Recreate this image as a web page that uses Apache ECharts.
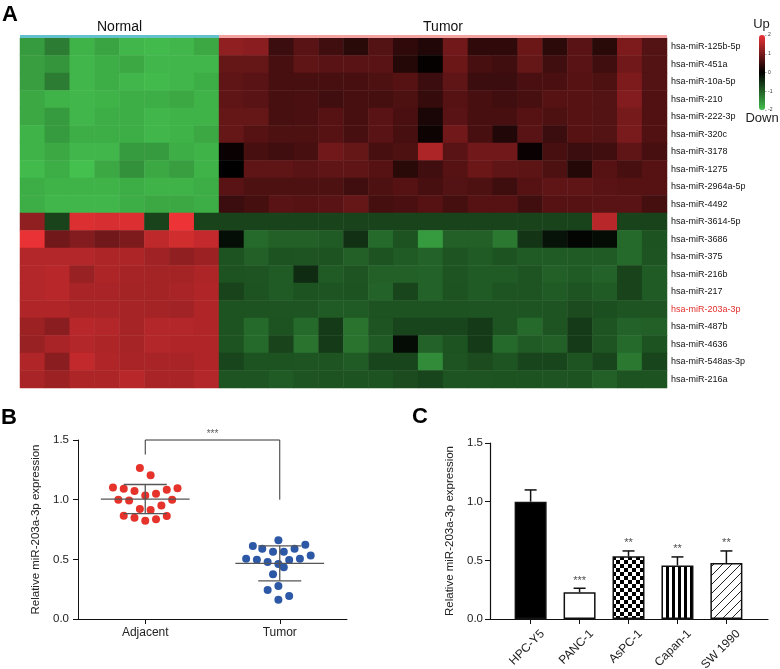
<!DOCTYPE html>
<html><head><meta charset="utf-8">
<script src="https://cdn.jsdelivr.net/npm/echarts@6/dist/echarts.min.js"></script>
<style>html,body{margin:0;padding:0;background:#fff}#c{width:780px;height:669px}</style>
</head><body><div id="c"></div>
<script>
const FONT = 'Arial, "Liberation Sans", Helvetica, sans-serif';

// ---------- Panel A data ----------
const mirnas = ['hsa-miR-125b-5p','hsa-miR-451a','hsa-miR-10a-5p','hsa-miR-210','hsa-miR-222-3p','hsa-miR-320c','hsa-miR-3178','hsa-miR-1275','hsa-miR-2964a-5p','hsa-miR-4492','hsa-miR-3614-5p','hsa-miR-3686','hsa-miR-375','hsa-miR-216b','hsa-miR-217','hsa-miR-203a-3p','hsa-miR-487b','hsa-miR-4636','hsa-miR-548as-3p','hsa-miR-216a'];
const highlightMirna = 'hsa-miR-203a-3p';
const groupNames = ['Normal','Tumor'];
const groupSizes = [8, 18];
const normalValues = [
 [-1.6,-1.3,-1.85,-1.7,-1.9,-1.95,-1.9,-1.75],
 [-1.65,-1.55,-1.9,-1.8,-1.75,-1.9,-1.9,-1.9],
 [-1.65,-1.3,-1.9,-1.8,-1.9,-1.95,-1.9,-1.8],
 [-1.75,-1.85,-1.9,-1.85,-1.8,-1.8,-1.75,-1.85],
 [-1.75,-1.6,-1.9,-1.8,-1.8,-1.9,-1.85,-1.85],
 [-1.85,-1.6,-1.8,-1.8,-1.8,-1.9,-1.85,-1.75],
 [-1.85,-1.75,-1.9,-1.9,-1.6,-1.6,-1.8,-1.85],
 [-1.95,-1.8,-2.0,-1.75,-1.5,-1.75,-1.65,-1.85],
 [-1.8,-1.85,-1.85,-1.85,-1.8,-1.85,-1.85,-1.8],
 [-1.8,-1.9,-1.9,-1.9,-1.8,-1.75,-1.75,-1.8],
 [1.2,-0.7,1.85,1.8,1.85,-0.7,2.0,-0.7],
 [1.95,0.95,1.1,0.95,1.05,1.6,1.75,1.65],
 [1.5,1.5,1.5,1.45,1.45,1.35,1.2,1.3],
 [1.5,1.55,1.28,1.45,1.4,1.38,1.38,1.45],
 [1.5,1.55,1.42,1.42,1.38,1.38,1.42,1.48],
 [1.48,1.48,1.42,1.42,1.4,1.38,1.36,1.48],
 [1.3,1.15,1.55,1.5,1.4,1.5,1.5,1.48],
 [1.28,1.42,1.5,1.45,1.4,1.5,1.48,1.48],
 [1.48,1.15,1.62,1.48,1.42,1.42,1.42,1.48],
 [1.42,1.3,1.45,1.45,1.55,1.42,1.42,1.5]
];
const tumorValues = [
 [1.2,1.15,0.5,0.75,0.55,0.35,0.7,0.4,0.28,0.95,0.4,0.4,0.9,0.38,0.75,0.35,1.05,0.7],
 [0.85,0.85,0.6,0.8,0.75,0.75,0.75,0.3,0.05,0.9,0.6,0.55,0.85,0.55,0.75,0.55,0.95,0.7],
 [0.8,0.75,0.6,0.6,0.6,0.6,0.65,0.72,0.5,0.8,0.5,0.5,0.62,0.62,0.72,0.65,1.05,0.7],
 [0.8,0.75,0.6,0.62,0.55,0.6,0.58,0.65,0.45,0.72,0.6,0.55,0.6,0.72,0.72,0.7,1.1,0.68],
 [0.85,0.85,0.6,0.62,0.72,0.6,0.75,0.62,0.22,0.75,0.6,0.6,0.72,0.65,0.72,0.7,1.0,0.68],
 [0.85,0.72,0.65,0.65,0.72,0.6,0.75,0.6,0.12,0.95,0.6,0.28,0.75,0.5,0.72,0.7,1.02,0.68],
 [0.08,0.6,0.55,0.6,0.95,0.85,0.6,0.65,1.45,0.75,0.95,0.95,0.08,0.6,0.5,0.55,0.8,0.6],
 [0.0,0.8,0.8,0.75,0.8,0.8,0.72,0.35,0.55,0.72,0.9,0.8,0.78,0.65,0.3,0.72,0.6,0.72],
 [0.75,0.65,0.65,0.65,0.65,0.55,0.65,0.72,0.6,0.7,0.65,0.52,0.72,0.8,0.8,0.75,0.72,0.72],
 [0.5,0.58,0.75,0.72,0.75,0.85,0.58,0.62,0.72,0.58,0.72,0.72,0.55,0.72,0.72,0.75,0.75,0.58],
 [-0.7,-0.7,-0.7,-0.7,-0.7,-0.7,-0.7,-0.7,-0.7,-0.7,-0.7,-0.7,-0.7,-0.7,-0.7,1.55,-0.7,-0.7],
 [-0.15,-1.1,-1.0,-1.0,-0.95,-0.5,-1.1,-0.85,-1.6,-1.0,-1.0,-1.25,-0.55,-0.2,-0.05,-0.12,-1.1,-0.85],
 [-0.85,-1.0,-0.85,-0.88,-0.85,-1.0,-0.85,-0.95,-1.02,-0.88,-0.95,-0.85,-0.95,-0.95,-0.95,-0.95,-1.1,-0.88],
 [-0.85,-0.88,-0.95,-0.45,-0.95,-0.88,-1.0,-1.0,-1.02,-0.88,-0.95,-0.95,-0.88,-1.0,-0.95,-1.02,-0.7,-0.95],
 [-0.7,-0.85,-0.95,-0.85,-0.88,-0.85,-1.02,-0.72,-1.02,-0.85,-0.95,-0.88,-0.88,-0.95,-0.88,-0.95,-0.7,-0.95],
 [-0.85,-0.85,-0.88,-0.88,-0.95,-0.95,-0.85,-0.85,-0.85,-0.85,-0.88,-0.88,-0.88,-0.88,-0.78,-0.82,-0.88,-0.88],
 [-0.85,-1.1,-0.85,-1.1,-0.6,-1.2,-0.88,-0.72,-0.72,-0.72,-0.6,-0.88,-1.1,-0.88,-0.6,-0.88,-1.02,-1.0],
 [-0.85,-1.1,-0.7,-1.2,-0.6,-1.2,-0.95,-0.12,-1.02,-0.85,-0.6,-1.1,-0.95,-1.0,-0.6,-0.88,-1.1,-0.85],
 [-0.72,-0.85,-0.85,-0.88,-0.88,-0.95,-0.72,-0.72,-1.45,-0.88,-0.78,-0.88,-0.72,-0.72,-0.88,-0.72,-1.25,-0.72],
 [-0.88,-0.88,-0.95,-0.88,-0.85,-0.85,-0.85,-0.78,-0.72,-0.88,-0.88,-0.85,-0.85,-0.88,-0.85,-1.0,-0.85,-0.85]
];
const colorScaleTicks = [-2, -1, 0, 1, 2];
const colorScaleEnds = ['Up', 'Down'];

// ---------- Panel B data ----------
const dotGroups = ['Adjacent', 'Tumor'];
const adjacentJitter = [-0.04,0.04,-0.24,-0.16,-0.08,0.08,0.16,0.24,0,-0.2,-0.12,0.2,0.12,-0.04,0.04,-0.16,-0.08,0,0.08,0.16];
const adjacentValues = [1.266,1.204,1.101,1.092,1.073,1.050,1.084,1.095,1.034,1.0,0.994,1.0,0.952,0.922,0.913,0.866,0.849,0.824,0.835,0.863];
const tumorJitter = [-0.01,-0.2,-0.13,-0.05,0.03,0.11,0.19,-0.25,-0.17,-0.09,-0.01,0.07,0.15,0.23,0.03,-0.05,-0.01,-0.09,0.07,-0.01];
const tumorDotValues = [0.659,0.612,0.589,0.564,0.564,0.589,0.623,0.505,0.497,0.478,0.461,0.495,0.505,0.533,0.433,0.374,0.277,0.243,0.193,0.162];
const dotMeans = [1.005, 0.466];
const dotSDs = [0.122, 0.146];
const sigB = '***';

// ---------- Panel C data ----------
const cellLines = ['HPC-Y5','PANC-1','AsPC-1','Capan-1','SW 1990'];
const cellMeans = [1.0, 0.227, 0.534, 0.457, 0.477];
const cellSDs = [0.10, 0.035, 0.046, 0.072, 0.103];
const cellSig = ['', '***', '**', '**', '**'];

// ---------- build ----------
const heatData = [];
mirnas.forEach((m, r) => {
  normalValues[r].forEach((v, c) => heatData.push([c, r, v]));
  tumorValues[r].forEach((v, c) => heatData.push([groupSizes[0] + c, r, v]));
});
const nCols = groupSizes[0] + groupSizes[1];
const colIdx = Array.from({length: nCols}, (_, i) => String(i));
const groupSpans = [[0, groupSizes[0], 0], [groupSizes[0], nCols, 1]];
const groupCenters = [groupSizes[0] / 2, groupSizes[0] + groupSizes[1] / 2];
const groupColors = ['#62c1cc', '#f3a29f'];
const labelShift = 0.245; // rotated label anchor offset (axis units)
const cellIdx = cellLines.map((_, i) => i);

function mkPattern(kind) {
  const cv = document.createElement('canvas');
  const ctx = cv.getContext('2d');
  if (kind === 'checker') {
    cv.width = 8; cv.height = 8;
    ctx.fillStyle = '#fff'; ctx.fillRect(0,0,8,8);
    ctx.fillStyle = '#000'; ctx.fillRect(0,0,4,4); ctx.fillRect(4,4,4,4);
  } else if (kind === 'vstripe') {
    cv.width = 6; cv.height = 6;
    ctx.fillStyle = '#fff'; ctx.fillRect(0,0,6,6);
    ctx.fillStyle = '#000'; ctx.fillRect(0,0,3,6);
  } else {
    cv.width = 9; cv.height = 9;
    ctx.fillStyle = '#fff'; ctx.fillRect(0,0,9,9);
    ctx.strokeStyle = '#222'; ctx.lineWidth = 1;
    ctx.beginPath();
    ctx.moveTo(-1, 10); ctx.lineTo(10, -1);
    ctx.moveTo(-1, 1); ctx.lineTo(1, -1);
    ctx.moveTo(8, 10); ctx.lineTo(10, 8);
    ctx.stroke();
  }
  return { image: cv, repeat: 'repeat' };
}
const barFills = ['#000', '#fff', mkPattern('checker'), mkPattern('vstripe'), mkPattern('diag')];

const axisTxt = { color: '#222', fontFamily: FONT };
const chart = echarts.init(document.getElementById('c'), null, { renderer: 'canvas' });

const option = {
  backgroundColor: '#fff',
  animation: false,
  textStyle: { fontFamily: FONT },
  graphic: [
    { type: 'text', left: 2, top: 4, style: { text: 'A', font: 'bold 22px ' + FONT, fill: '#000' } },
    { type: 'text', left: 1, top: 407, style: { text: 'B', font: 'bold 22px ' + FONT, fill: '#000' } },
    { type: 'text', left: 412, top: 406, style: { text: 'C', font: 'bold 22px ' + FONT, fill: '#000' } }
  ],
  visualMap: {
    type: 'continuous', seriesIndex: 0, min: -2, max: 2,
    orient: 'vertical', left: 759, top: 35, itemWidth: 6, itemHeight: 75,
    padding: 0, calculable: false, showLabel: false, text: null,
    inRange: { color: ['#44c04e', '#000000', '#ee3336'] }
  },
  grid: [
    { left: 20, top: 38, width: 647, height: 350, outerBoundsMode: 'none' },     // 0 heatmap
    { left: 20, top: 35, width: 647, height: 3, outerBoundsMode: 'none' },       // 1 annotation
    { left: 759, top: 35, width: 6, height: 75, outerBoundsMode: 'none' },       // 2 colour scale ticks
    { left: 78, top: 440, width: 269, height: 179, outerBoundsMode: 'none' },    // 3 panel B
    { left: 490, top: 443, width: 278, height: 176, outerBoundsMode: 'none' }    // 4 panel C
  ],
  xAxis: [
    { gridIndex: 0, type: 'category', data: colIdx, show: false },
    { gridIndex: 1, type: 'value', min: 0, max: nCols, position: 'top',
      axisLine: { show: false }, axisTick: { show: false }, splitLine: { show: false },
      axisLabel: { customValues: groupCenters, margin: 1, fontSize: 14, color: '#111', fontFamily: FONT,
        formatter: v => groupNames[groupCenters.indexOf(v)] } },
    { gridIndex: 2, type: 'value', min: 0, max: 1, position: 'bottom',
      name: colorScaleEnds[1], nameLocation: 'middle', nameGap: 2,
      nameTextStyle: { fontSize: 13, color: '#222', fontFamily: FONT, verticalAlign: 'top' },
      axisLine: { show: false }, axisTick: { show: false }, axisLabel: { show: false }, splitLine: { show: false } },
    { gridIndex: 3, type: 'value', min: 0, max: 2,
      axisLine: { onZero: false, lineStyle: { color: '#111', width: 1 } },
      axisTick: { customValues: [0.5, 1.5], length: 5, lineStyle: { color: '#111' } },
      splitLine: { show: false },
      axisLabel: { customValues: [0.5, 1.5], margin: 8, fontSize: 12, ...axisTxt,
        formatter: v => dotGroups[Math.round(v - 0.5)] } },
    { gridIndex: 4, type: 'value', min: -0.83, max: 4.85,
      axisLine: { onZero: false, lineStyle: { color: '#111', width: 1.2 } },
      axisTick: { customValues: cellIdx, length: 5, lineStyle: { color: '#111' } },
      splitLine: { show: false },
      axisLabel: { customValues: cellIdx.map(i => i + labelShift), rotate: 45, margin: 13, fontSize: 12, ...axisTxt,
        formatter: v => cellLines[Math.round(v - labelShift)] } }
  ],
  yAxis: [
    { gridIndex: 0, type: 'category', data: mirnas, inverse: true, position: 'right',
      axisLine: { show: false }, axisTick: { show: false },
      axisLabel: { fontSize: 9, margin: 4, color: '#111', fontFamily: FONT,
        formatter: v => v === highlightMirna ? '{r|' + v + '}' : v,
        rich: { r: { color: '#e0302c', fontSize: 9, fontFamily: FONT } } } },
    { gridIndex: 1, type: 'value', min: 0, max: 1, show: false },
    { gridIndex: 2, type: 'value', min: -2, max: 2, interval: 1, position: 'right',
      name: colorScaleEnds[0], nameLocation: 'end', nameGap: 4,
      nameTextStyle: { fontSize: 13, color: '#222', fontFamily: FONT, align: 'center', padding: [0, 7, 0, 0] },
      axisLine: { show: false, onZero: false }, splitLine: { show: false },
      axisTick: { show: true, length: 1.5, lineStyle: { color: '#555', width: 0.5 } },
      axisLabel: { fontSize: 5, margin: 3, color: '#333', fontFamily: FONT } },
    { gridIndex: 3, type: 'value', min: 0, max: 1.5, interval: 0.5,
      name: 'Relative miR-203a-3p expression', nameLocation: 'middle', nameGap: 36,
      nameTextStyle: { fontSize: 11.5, color: '#222', fontFamily: FONT },
      axisLine: { show: true, onZero: false, lineStyle: { color: '#111', width: 1 } },
      axisTick: { show: true, length: 5, lineStyle: { color: '#111' } },
      splitLine: { show: false },
      axisLabel: { fontSize: 11.5, margin: 9, ...axisTxt, formatter: v => v.toFixed(1) } },
    { gridIndex: 4, type: 'value', min: 0, max: 1.5, interval: 0.5,
      name: 'Relative miR-203a-3p expression', nameLocation: 'middle', nameGap: 34,
      nameTextStyle: { fontSize: 11.5, color: '#222', fontFamily: FONT },
      axisLine: { show: true, onZero: false, lineStyle: { color: '#111', width: 1.2 } },
      axisTick: { show: true, length: 5, lineStyle: { color: '#111' } },
      splitLine: { show: false },
      axisLabel: { fontSize: 11.5, margin: 7, ...axisTxt, formatter: v => v.toFixed(1) } }
  ],
  series: [
    { type: 'heatmap', xAxisIndex: 0, yAxisIndex: 0, data: heatData, progressive: 0,
      itemStyle: { borderWidth: 0 }, emphasis: { disabled: true } },
    { type: 'custom', xAxisIndex: 1, yAxisIndex: 1, data: groupSpans, silent: true,
      renderItem: (params, api) => {
        const p0 = api.coord([api.value(0), 1]);
        const p1 = api.coord([api.value(1), 0]);
        return { type: 'rect', shape: { x: p0[0], y: p0[1], width: p1[0] - p0[0], height: p1[1] - p0[1] },
          style: { fill: groupColors[api.value(2)] } };
      } },
    { type: 'scatter', xAxisIndex: 2, yAxisIndex: 2, data: [], silent: true },
    // Panel B dots
    { type: 'scatter', xAxisIndex: 3, yAxisIndex: 3, symbolSize: 8,
      itemStyle: { color: '#e5322b', opacity: 1 },
      data: adjacentValues.map((v, i) => [0.5 + adjacentJitter[i], v]) },
    { type: 'scatter', xAxisIndex: 3, yAxisIndex: 3, symbolSize: 8,
      itemStyle: { color: '#2c58a6', opacity: 1 },
      data: tumorDotValues.map((v, i) => [1.5 + tumorJitter[i], v]) },
    // mean +/- SD
    { type: 'custom', xAxisIndex: 3, yAxisIndex: 3, silent: true, z: 5,
      data: dotMeans.map((m, i) => [0.5 + i, m, dotSDs[i]]),
      renderItem: (params, api) => {
        const x = api.value(0), m = api.value(1), s = api.value(2);
        const st = { stroke: '#555', lineWidth: 1.3 };
        const L = (a, b) => ({ type: 'line', shape: { x1: a[0], y1: a[1], x2: b[0], y2: b[1] }, style: st });
        return { type: 'group', children: [
          L(api.coord([x - 0.33, m]), api.coord([x + 0.33, m])),
          L(api.coord([x, m - s]), api.coord([x, m + s])),
          L(api.coord([x - 0.16, m + s]), api.coord([x + 0.16, m + s])),
          L(api.coord([x - 0.16, m - s]), api.coord([x + 0.16, m - s]))
        ] };
      } },
    // significance bracket B
    { type: 'line', xAxisIndex: 3, yAxisIndex: 3, symbol: 'none', clip: false, silent: true,
      lineStyle: { color: '#333', width: 1 },
      data: [[0.5, 1.378], [0.5, 1.5], [1.5, 1.5], [1.5, 1.0]] },
    { type: 'scatter', xAxisIndex: 3, yAxisIndex: 3, symbolSize: 0, silent: true, clip: false,
      label: { show: true, position: 'top', distance: 1, formatter: sigB, fontSize: 10, color: '#333' },
      data: [[1.0, 1.5]] },
    // Panel C bars
    { type: 'bar', xAxisIndex: 4, yAxisIndex: 4, barWidth: 32,
      data: cellMeans.map((v, i) => ({ value: [i, v], itemStyle: { color: barFills[i] } })),
      itemStyle: { borderColor: '#111', borderWidth: 1.5 } },
    // error bars C (upper only)
    { type: 'custom', xAxisIndex: 4, yAxisIndex: 4, silent: true, z: 5,
      data: cellMeans.map((v, i) => [i, v, v + cellSDs[i]]),
      renderItem: (params, api) => {
        const a = api.coord([api.value(0), api.value(1)]);
        const b = api.coord([api.value(0), api.value(2)]);
        const st = { stroke: '#111', lineWidth: 1.5 };
        return { type: 'group', children: [
          { type: 'line', shape: { x1: a[0], y1: a[1], x2: b[0], y2: b[1] }, style: st },
          { type: 'line', shape: { x1: b[0] - 6, y1: b[1], x2: b[0] + 6, y2: b[1] }, style: st }
        ] };
      } },
    // significance stars C
    { type: 'scatter', xAxisIndex: 4, yAxisIndex: 4, symbolSize: 0, silent: true,
      data: cellMeans.map((v, i) => [i, v + cellSDs[i]]),
      label: { show: true, position: 'top', distance: 2, fontSize: 11, color: '#222',
        formatter: p => cellSig[p.dataIndex] } }
  ]
};
chart.setOption(option);
</script></body></html>
